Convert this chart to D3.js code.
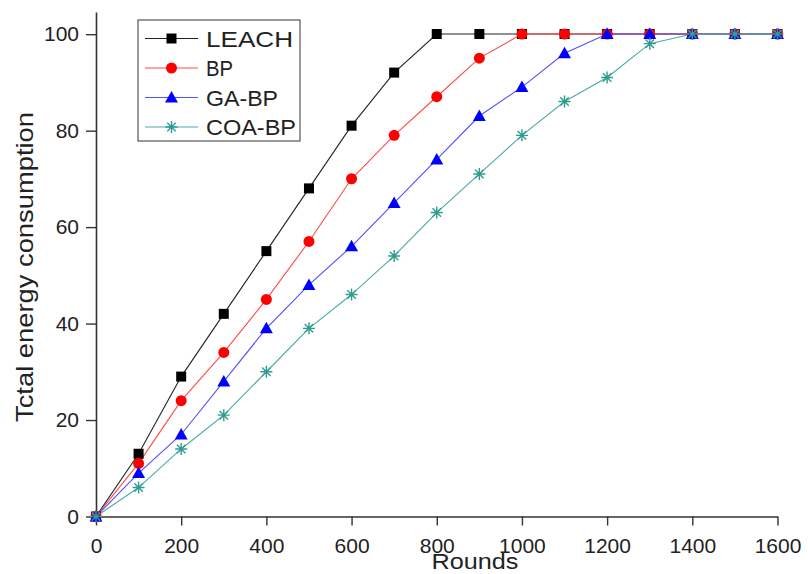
<!DOCTYPE html>
<html>
<head>
<meta charset="utf-8">
<script src="https://cdn.jsdelivr.net/npm/d3@7"></script>
<style>
  body { margin: 0; background: #fff; }
  svg { display: block; font-family: 'Liberation Sans', Arial, sans-serif; }
</style>
</head>
<body>
<div id="chart"></div>
<script>
const rounds = [0, 100, 200, 300, 400, 500, 600, 700, 800, 900, 1000, 1100, 1200, 1300, 1400, 1500, 1600]
const leach = [0, 13, 29, 42, 55, 68, 81, 92, 100, 100, 100, 100, 100, 100, 100, 100, 100]
const bp = [0, 11, 24, 34, 45, 57, 70, 79, 87, 95, 100, 100, 100, 100, 100, 100, 100]
const gaBp = [0, 9, 17, 28, 39, 48, 56, 65, 74, 83, 89, 96, 100, 100, 100, 100, 100]
const coaBp = [0, 6, 14, 21, 30, 39, 46, 54, 63, 71, 79, 86, 91, 98, 100, 100, 100]
const seriesNames = ['LEACH', 'BP', 'GA-BP', 'COA-BP']
const xTicks = [0, 200, 400, 600, 800, 1000, 1200, 1400, 1600]
const yTicks = [0, 20, 40, 60, 80, 100]

const series = [
  { name: seriesNames[0], values: leach, color: '#000', line: '#222', shape: 'square' },
  { name: seriesNames[1], values: bp, color: '#ff0000', line: '#ff4a4a', shape: 'circle' },
  { name: seriesNames[2], values: gaBp, color: '#0000ff', line: '#5050ff', shape: 'triangle' },
  { name: seriesNames[3], values: coaBp, color: '#2f9c94', line: '#4aaba4', shape: 'star' },
]

const width = 808
const height = 574
const svg = d3.select('#chart').append('svg').attr('width', width).attr('height', height)

const x = d3.scaleLinear().domain([0, 1600]).range([96, 777.5])
const y = d3.scaleLinear().domain([0, 100]).range([516.5, 34])

// markers
function drawMarker(g, shape, color) {
  if (shape === 'square') {
    g.append('rect').attr('x', -5).attr('y', -5).attr('width', 10).attr('height', 10).attr('fill', color)
  } else if (shape === 'circle') {
    g.append('circle').attr('r', 5.5).attr('fill', color)
  } else if (shape === 'triangle') {
    g.append('path').attr('d', 'M0,-6.5L6.5,5L-6.5,5Z').attr('fill', color)
  } else {
    const r = 6
    let d = ''
    for (let i = 0; i < 4; i++) {
      const a = (Math.PI / 4) * i
      d += `M${-r * Math.cos(a)},${-r * Math.sin(a)}L${r * Math.cos(a)},${r * Math.sin(a)}`
    }
    g.append('path').attr('d', d).attr('stroke', color).attr('stroke-width', 1.4).attr('fill', 'none')
  }
}

// axes
const axisColor = '#333'
const xAxis = svg.append('g').attr('transform', `translate(0,${y(0)})`)
xAxis.call(d3.axisBottom(x).tickValues(d3.range(100, 1600, 200)).tickSize(6).tickFormat(''))
xAxis.call(d3.axisBottom(x).tickValues(xTicks).tickSize(9).tickSizeOuter(0).tickPadding(13).tickFormat(d3.format('d')))

const yAxis = svg.append('g').attr('transform', `translate(${x(0)},0)`)
yAxis.call(d3.axisLeft(y).tickValues(d3.range(10, 100, 20)).tickSize(6).tickFormat(''))
const yMain = d3.scaleLinear().domain([0, 104.6]).range([516.5, 12])
yAxis.call(d3.axisLeft(yMain).tickValues(yTicks).tickSize(10).tickSizeOuter(0).tickPadding(7).tickFormat(d3.format('d')))

svg.selectAll('.domain').attr('stroke', axisColor).attr('stroke-width', 1.6)
svg.selectAll('.tick line').attr('stroke', axisColor).attr('stroke-width', 1.4)
svg.selectAll('.tick text').attr('font-size', 21).attr('fill', '#222').attr('font-family', "'Liberation Sans', Arial, sans-serif")

// axis titles
svg.append('text')
  .attr('x', 475).attr('y', 569)
  .attr('text-anchor', 'middle')
  .attr('font-size', 22).attr('fill', '#222')
  .attr('textLength', 87).attr('lengthAdjust', 'spacingAndGlyphs')
  .text('Rounds')

svg.append('text')
  .attr('transform', 'translate(33,267) rotate(-90)')
  .attr('text-anchor', 'middle')
  .attr('font-size', 24).attr('fill', '#222')
  .attr('textLength', 310).attr('lengthAdjust', 'spacingAndGlyphs')
  .text('Tctal energy consumption')

// lines and markers
const line = d3.line().x((d, i) => x(rounds[i])).y((d) => y(d))
series.forEach((s) => {
  svg.append('path')
    .datum(s.values)
    .attr('fill', 'none')
    .attr('stroke', s.line)
    .attr('stroke-width', 1.1)
    .attr('d', line)
})
series.forEach((s) => {
  s.values.forEach((v, i) => {
    const g = svg.append('g').attr('transform', `translate(${x(rounds[i])},${y(v)})`)
    drawMarker(g, s.shape, s.color)
  })
})

// legend
const legend = svg.append('g')
legend.append('rect')
  .attr('x', 138).attr('y', 20).attr('width', 162).attr('height', 121)
  .attr('fill', '#fff').attr('stroke', '#555').attr('stroke-width', 1.2)
const legendWidths = [87, 27, 72, 90]
series.forEach((s, i) => {
  const cy = 38.5 + i * 29.5
  legend.append('line')
    .attr('x1', 145).attr('x2', 198).attr('y1', cy).attr('y2', cy)
    .attr('stroke', s.line).attr('stroke-width', 1.1)
  const g = legend.append('g').attr('transform', `translate(171.5,${cy})`)
  drawMarker(g, s.shape, s.color)
  legend.append('text')
    .attr('x', 206).attr('y', cy + 8)
    .attr('font-size', 22).attr('fill', '#222')
    .attr('textLength', legendWidths[i]).attr('lengthAdjust', 'spacingAndGlyphs')
    .text(s.name)
})
</script>
</body>
</html>
